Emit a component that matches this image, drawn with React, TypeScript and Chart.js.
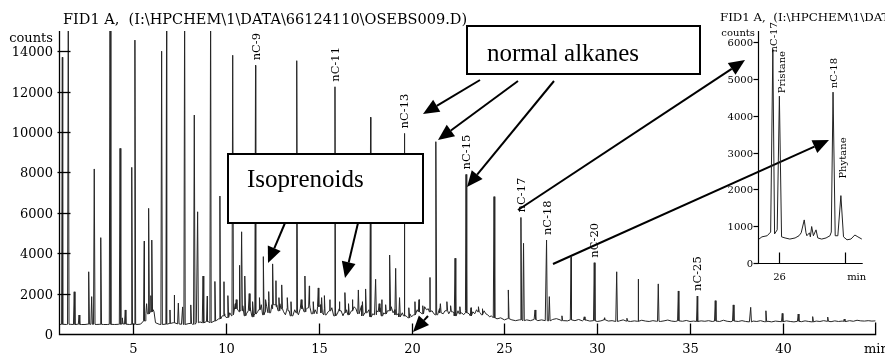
import { useEffect, useRef } from 'react';
import { Chart, registerables } from 'chart.js';

Chart.register(...registerables);

// ---------------- DATA ----------------
const mainTitle = 'FID1 A,  (I:\\HPCHEM\\1\\DATA\\66124110\\OSEBS009.D)';
const insetTitle = 'FID1 A,  (I:\\HPCHEM\\1\\DATA\\66124110\\OSEBS009.D)';

// baseline (counts) sampled every 0.2 min from 1.0 min
const baselineStart = 1;
const baselineStep = 0.2;
const baselineCounts = [
  470, 480, 470, 480, 470, 480, 470, 470, 490, 480,
  470, 480, 470, 470, 480, 470, 480, 500, 490, 470,
  480, 470, 490, 650, 1000, 1100, 560, 480, 470, 490,
  520, 560, 500, 480, 470, 520, 480, 560, 600, 550,
  620, 560, 640, 750, 900, 820, 1050, 950, 1250, 1150,
  900, 1150, 850, 1000, 1200, 950, 1350, 1050, 1450, 1150,
  1250, 950, 1150, 900, 1050, 1250, 1100, 1300, 1000, 1200,
  1350, 1050, 950, 1150, 900, 1000, 1150, 1050, 950, 1150,
  1250, 1000, 900, 1050, 850, 950, 1100, 900, 1000, 1150,
  1050, 950, 850, 900, 800, 850, 950, 1100, 1000, 1200,
  1100, 1000, 950, 1050, 1150, 1000, 1100, 900, 1000, 950,
  1050, 900, 1000, 1100, 950, 1000, 850, 800, 750, 800,
  700, 760, 700, 660, 700, 660, 700, 660, 720, 660,
  700, 660, 650, 720, 760, 700, 660, 650, 700, 660,
  720, 650, 690, 640, 660, 620, 650, 700, 640, 660,
  620, 650, 700, 640, 620, 650, 630, 680, 640, 620,
  660, 630, 620, 650, 690, 640, 620, 650, 630, 670,
  620, 640, 620, 650, 630, 660, 620, 640, 620, 680,
  630, 610, 640, 620, 660, 620, 600, 640, 620, 660,
  610, 630, 600, 640, 620, 610, 650, 620, 600, 630,
  610, 650, 620, 600, 640, 620, 660, 630, 610, 650,
  620, 640, 620, 660, 630, 680, 650, 640, 660, 640,
  650,
];

// extra baseline noise samples in the busy region, every 0.2 min from 9.5 min
const noiseStart = 9.5;
const noiseStep = 0.2;
const noiseCounts = [
  680, 820, 1000, 1300, 900, 1500, 1100, 1400, 1000, 1300,
  900, 1100, 1450, 1100, 1600, 1250, 1350, 1500, 1100, 1300,
  1000, 1200, 950, 1400, 1200, 1500, 1150, 1000, 1450, 1250,
  1100, 1300, 1050, 1250, 900, 1200, 1050, 1350, 1100, 1400,
  1050, 1200, 1000, 1150, 1300, 1050, 1150, 1350, 1200, 1000,
  1050, 900, 1000, 950, 1200, 1050, 1350, 1250, 1150, 1050,
  1250, 1000, 1300, 1150, 1050, 1150, 1050, 1150, 1000, 1100,
  1200, 1050, 1150, 950, 900, 800,
];

// peak apex retention times (min) and heights (counts)
const peakTimes = [
  1.18, 1.5, 1.82, 2.08, 2.6, 2.76, 2.9, 3.25, 3.75, 4.29,
  4.41, 4.57, 4.92, 5.09, 5.6, 5.72, 5.83, 5.95, 6.01, 6.08,
  6.53, 6.8, 6.98, 7.2, 7.43, 7.66, 7.77, 8.1, 8.29, 8.47,
  8.76, 8.99, 9.17, 9.4, 9.67, 9.89, 10.1, 10.36, 10.55, 10.71,
  10.84, 11.02, 11.25, 11.45, 11.59, 11.8, 12.01, 12.15, 12.3, 12.51,
  12.69, 12.85, 13.0, 13.3, 13.5, 13.81, 14.05, 14.25, 14.49, 14.7,
  14.97, 15.15, 15.3, 15.6, 15.87, 16.1, 16.41, 16.6, 16.8, 17.13,
  17.35, 17.52, 17.79, 18.06, 18.25, 18.4, 18.6, 18.83, 19.14, 19.35,
  19.6, 19.85, 20.18, 20.4, 20.6, 20.99, 21.31, 21.55, 21.9, 22.1,
  22.34, 22.6, 22.93, 23.2, 23.6, 23.8, 24.44, 25.21, 25.89, 26.03,
  26.65, 27.27, 27.42, 28.1, 28.59, 29.3, 29.84, 30.4, 31.05, 31.6,
  32.2, 33.29, 34.37, 35.39, 36.36, 37.33, 38.27, 39.09, 39.97, 40.83,
  41.61, 42.42, 43.31,
];
const peakCounts = [
  13700, 17000, 2090, 940, 3080, 1850, 8170, 4770, 17000, 9190,
  800, 1190, 8250, 14550, 4600, 1500, 6220, 1900, 4650, 1200,
  14000, 17000, 1190, 1930, 1530, 1340, 17000, 1440, 10840, 6050,
  2870, 1880, 17000, 2600, 6830, 2590, 1900, 13800, 1700, 3400,
  5060, 2870, 2000, 1600, 13300, 1800, 3830, 1700, 2100, 3470,
  2640, 1800, 2430, 1800, 1600, 13530, 1700, 2870, 2380, 1600,
  2280, 1800, 1900, 1700, 12240, 1600, 2050, 1500, 1700, 2180,
  1600, 2230, 10730, 2710, 1500, 1700, 1450, 3910, 3250, 1800,
  9930, 1300, 1600, 1700, 1400, 2800, 9520, 1500, 1600, 1400,
  3750, 1350, 7900, 1300, 1350, 1250, 6800, 2180, 5770, 4490,
  1190, 4650, 1850, 900, 3800, 850, 3530, 800, 3080, 780,
  2720, 2480, 2130, 1880, 1650, 1440, 1320, 1150, 1020, 990,
  860, 840, 740,
];

// labelled n-alkane peaks
const labelNames = ['nC-9', 'nC-11', 'nC-13', 'nC-15', 'nC-17', 'nC-18', 'nC-20', 'nC-25'];
const labelTimes = [11.59, 15.87, 19.6, 22.93, 25.89, 27.27, 29.84, 35.39];

const xTicks = [5, 10, 15, 20, 25, 30, 35, 40];
const yTicks = [0, 2000, 4000, 6000, 8000, 10000, 12000, 14000];

// inset (zoom on 25.5 - 27.9 min)
const insetTimes = [
  25.51, 25.6, 25.72, 25.8, 25.85, 25.89, 25.95, 26.0, 26.05, 26.13,
  26.24, 26.36, 26.45, 26.5, 26.57, 26.61, 26.63, 26.69, 26.71, 26.74,
  26.78, 26.84, 26.88, 26.97, 27.07, 27.16, 27.19, 27.23, 27.28, 27.34,
  27.41, 27.47, 27.55, 27.64, 27.73, 27.8, 27.89,
];
const insetCounts = [
  630, 710, 740, 840, 5800, 790, 900, 4530, 710, 680,
  650, 680, 740, 820, 1170, 820, 740, 820, 710, 990,
  740, 900, 680, 650, 680, 740, 840, 4640, 740, 740,
  1830, 710, 630, 650, 760, 710, 650,
];
const insetLabelNames = ['nC-17', 'Pristane', 'nC-18', 'Phytane'];
const insetLabelTimes = [25.85, 26.0, 27.23, 27.41];
const insetYTicks = [0, 1000, 2000, 3000, 4000, 5000, 6000];
const insetXTicks = [26, 27.5];
const insetXTickLabels = ['26', ''];

// ---------------- STYLE / LAYOUT ----------------
const SERIF = "'DejaVu Serif', serif";
const TIMES = "'Liberation Serif', serif";
const PEAK_HALF_WIDTH = 0.04;
const INSET_LEFT = 715;
const INSET_W = 170;
const INSET_H = 290;
const insetLabelStyle: Record<string, { dx: number; gap: number }> = {
  'nC-17': { dx: 2, gap: -3 },
  Pristane: { dx: 3, gap: 3 },
  'nC-18': { dx: 1, gap: 4 },
  Phytane: { dx: 3, gap: 17 },
};
const boxes = [
  { x: 228, y: 154, w: 195, h: 69, text: 'Isoprenoids', tx: 247, ty: 187 },
  { x: 467, y: 26, w: 233, h: 48, text: 'normal alkanes', tx: 487, ty: 60.5 },
];
const arrows = [
  [480, 80, 423, 114],
  [518, 81, 438, 140],
  [554, 81, 467, 187],
  [518, 210, 745, 60],
  [553, 264, 829, 140],
  [285, 223, 268, 263],
  [358, 223, 345, 278],
  [428, 316, 413, 332],
];

function nearestBase(t: number) {
  const i = Math.round((t - baselineStart) / baselineStep);
  return baselineCounts[Math.max(0, Math.min(baselineCounts.length - 1, i))];
}

function buildTrace() {
  const pts: { x: number; y: number }[] = baselineCounts.map((v, i) => ({
    x: baselineStart + i * baselineStep,
    y: v,
  }));
  noiseCounts.forEach((v, i) => pts.push({ x: noiseStart + i * noiseStep, y: v }));
  peakTimes.forEach((t, i) => {
    const b = nearestBase(t);
    pts.push({ x: t - PEAK_HALF_WIDTH, y: b }, { x: t, y: peakCounts[i] }, { x: t + PEAK_HALF_WIDTH, y: b });
  });
  pts.sort((a, b) => a.x - b.x);
  return pts;
}

function drawArrow(ctx: CanvasRenderingContext2D, x1: number, y1: number, x2: number, y2: number) {
  const ang = Math.atan2(y2 - y1, x2 - x1);
  const L = 16;
  const W = 7;
  const bx = x2 - L * Math.cos(ang);
  const by = y2 - L * Math.sin(ang);
  ctx.beginPath();
  ctx.moveTo(x1, y1);
  ctx.lineTo(bx, by);
  ctx.stroke();
  ctx.beginPath();
  ctx.moveTo(x2, y2);
  ctx.lineTo(bx + W * Math.sin(ang), by - W * Math.cos(ang));
  ctx.lineTo(bx - W * Math.sin(ang), by + W * Math.cos(ang));
  ctx.closePath();
  ctx.fill();
}

const mainDecor = {
  id: 'mainDecor',
  afterDraw(chart: any) {
    const ctx: CanvasRenderingContext2D = chart.ctx;
    const xs = chart.scales.x;
    const ys = chart.scales.y;
    const { left, right, top, bottom } = chart.chartArea;
    const L = Math.round(left) + 0.5;
    const B = Math.round(bottom) + 0.5;
    ctx.save();
    ctx.strokeStyle = '#000';
    ctx.fillStyle = '#000';
    ctx.lineWidth = 1.3;
    ctx.beginPath();
    ctx.moveTo(L, top);
    ctx.lineTo(L, B);
    ctx.lineTo(right, B);
    ctx.lineTo(right, B - 12);
    ctx.stroke();

    ctx.font = `13px ${SERIF}`;
    ctx.textAlign = 'right';
    ctx.textBaseline = 'alphabetic';
    yTicks.forEach((v) => {
      const y = Math.round(ys.getPixelForValue(v)) + 0.5;
      if (v !== 0) {
        ctx.beginPath();
        ctx.moveTo(L - 2, y);
        ctx.lineTo(L + 11, y);
        ctx.stroke();
      }
      ctx.fillText(String(v), left - 6, y + 4.7);
    });
    ctx.fillText('counts', left - 6, 41.5);

    ctx.textAlign = 'center';
    xTicks.forEach((v) => {
      const x = Math.round(xs.getPixelForValue(v)) + 0.5;
      ctx.beginPath();
      ctx.moveTo(x, B);
      ctx.lineTo(x, B - 11);
      ctx.stroke();
      ctx.fillText(String(v), x, 353.3);
    });
    ctx.textAlign = 'left';
    ctx.fillText('min', 864, 353.3);

    ctx.font = `14.5px ${SERIF}`;
    ctx.fillText(mainTitle, 63, 23.5);

    // peak labels
    ctx.font = `11.5px ${SERIF}`;
    labelNames.forEach((name, k) => {
      const idx = peakTimes.indexOf(labelTimes[k]);
      const x = xs.getPixelForValue(labelTimes[k]) + 1;
      const y = ys.getPixelForValue(peakCounts[idx]) - 5;
      ctx.save();
      ctx.translate(x, y);
      ctx.rotate(-Math.PI / 2);
      ctx.textAlign = 'left';
      ctx.textBaseline = 'middle';
      ctx.fillText(name, 0, 0);
      ctx.restore();
    });

    // boxes
    boxes.forEach((b) => {
      ctx.fillStyle = '#fff';
      ctx.fillRect(b.x, b.y, b.w, b.h);
      ctx.strokeStyle = '#000';
      ctx.lineWidth = 2;
      ctx.strokeRect(b.x, b.y, b.w, b.h);
      ctx.fillStyle = '#000';
      ctx.font = `25px ${TIMES}`;
      ctx.textAlign = 'left';
      ctx.textBaseline = 'alphabetic';
      ctx.fillText(b.text, b.tx, b.ty);
    });

    // arrows
    ctx.lineWidth = 2;
    ctx.strokeStyle = '#000';
    ctx.fillStyle = '#000';
    arrows.forEach((a) => drawArrow(ctx, a[0], a[1], a[2], a[3]));
    ctx.restore();
  },
};

const insetDecor = {
  id: 'insetDecor',
  afterDraw(chart: any) {
    const ctx: CanvasRenderingContext2D = chart.ctx;
    const xs = chart.scales.x;
    const ys = chart.scales.y;
    const { left, right, top, bottom } = chart.chartArea;
    const L = Math.round(left) + 0.5;
    const B = Math.round(bottom) + 0.5;
    ctx.save();
    ctx.strokeStyle = '#000';
    ctx.fillStyle = '#000';
    ctx.lineWidth = 1.2;
    ctx.beginPath();
    ctx.moveTo(L, top);
    ctx.lineTo(L, B);
    ctx.lineTo(right, B);
    ctx.stroke();

    ctx.font = `10px ${SERIF}`;
    ctx.textAlign = 'right';
    insetYTicks.forEach((v) => {
      const y = Math.round(ys.getPixelForValue(v)) + 0.5;
      ctx.beginPath();
      ctx.moveTo(L - 5, y);
      ctx.lineTo(L, y);
      ctx.stroke();
      ctx.fillText(String(v), left - 5, y + 3.6);
    });
    ctx.fillText('counts', left - 3, 36);

    ctx.textAlign = 'center';
    insetXTicks.forEach((v, i) => {
      const x = Math.round(xs.getPixelForValue(v)) + 0.5;
      ctx.beginPath();
      ctx.moveTo(x, B);
      ctx.lineTo(x, B - 11);
      ctx.stroke();
      if (insetXTickLabels[i]) ctx.fillText(insetXTickLabels[i], x, 279.5);
    });
    ctx.fillText('min', right - 6, 279.5);

    ctx.textAlign = 'left';
    ctx.font = `11.8px ${SERIF}`;
    ctx.fillText(insetTitle, 5, 20.7);

    ctx.font = `10px ${SERIF}`;
    insetLabelNames.forEach((name, k) => {
      const idx = insetTimes.indexOf(insetLabelTimes[k]);
      const st = insetLabelStyle[name] || { dx: 0, gap: 4 };
      const x = xs.getPixelForValue(insetLabelTimes[k]) + st.dx;
      const y = ys.getPixelForValue(insetCounts[idx]) - st.gap;
      ctx.save();
      ctx.translate(x, y);
      ctx.rotate(-Math.PI / 2);
      ctx.textAlign = 'left';
      ctx.textBaseline = 'middle';
      ctx.fillText(name, 0, 0);
      ctx.restore();
    });
    ctx.restore();
  },
};

export default function App() {
  const mainRef = useRef<HTMLCanvasElement>(null);
  const insetRef = useRef<HTMLCanvasElement>(null);

  useEffect(() => {
    const main = new Chart(mainRef.current as HTMLCanvasElement, {
      type: 'line',
      data: {
        datasets: [
          {
            data: buildTrace(),
            borderColor: '#262626',
            borderWidth: 1,
            pointRadius: 0,
            tension: 0,
            fill: false,
          },
        ],
      },
      options: {
        responsive: false,
        animation: false,
        events: [],
        layout: { padding: { left: 59, right: 9.4, top: 31, bottom: 24 } },
        scales: {
          x: { type: 'linear', min: 1, max: 45, display: false },
          y: { type: 'linear', min: 0, max: 15000, display: false },
        },
        plugins: { legend: { display: false }, tooltip: { enabled: false } },
      },
      plugins: [mainDecor],
    } as any);

    const inset = new Chart(insetRef.current as HTMLCanvasElement, {
      type: 'line',
      data: {
        datasets: [
          {
            data: insetTimes.map((t, i) => ({ x: t, y: insetCounts[i] })),
            borderColor: '#222',
            borderWidth: 1,
            pointRadius: 0,
            tension: 0,
            fill: false,
          },
        ],
      },
      options: {
        responsive: false,
        animation: false,
        events: [],
        layout: { padding: { left: 43, right: 22.3, top: 31, bottom: 27 } },
        scales: {
          x: { type: 'linear', min: 25.51, max: 27.91, display: false },
          y: { type: 'linear', min: 0, max: 6300, display: false },
        },
        plugins: { legend: { display: false }, tooltip: { enabled: false } },
      },
      plugins: [insetDecor],
    } as any);

    return () => {
      main.destroy();
      inset.destroy();
    };
  }, []);

  return (
    <div style={{ position: 'absolute', left: 0, top: 0, width: 885, height: 358, background: '#fff', overflow: 'hidden' }}>
      <canvas ref={mainRef} width={885} height={358} style={{ position: 'absolute', left: 0, top: 0 }} />
      <canvas
        ref={insetRef}
        width={INSET_W}
        height={INSET_H}
        style={{ position: 'absolute', left: INSET_LEFT, top: 0 }}
      />
    </div>
  );
}
